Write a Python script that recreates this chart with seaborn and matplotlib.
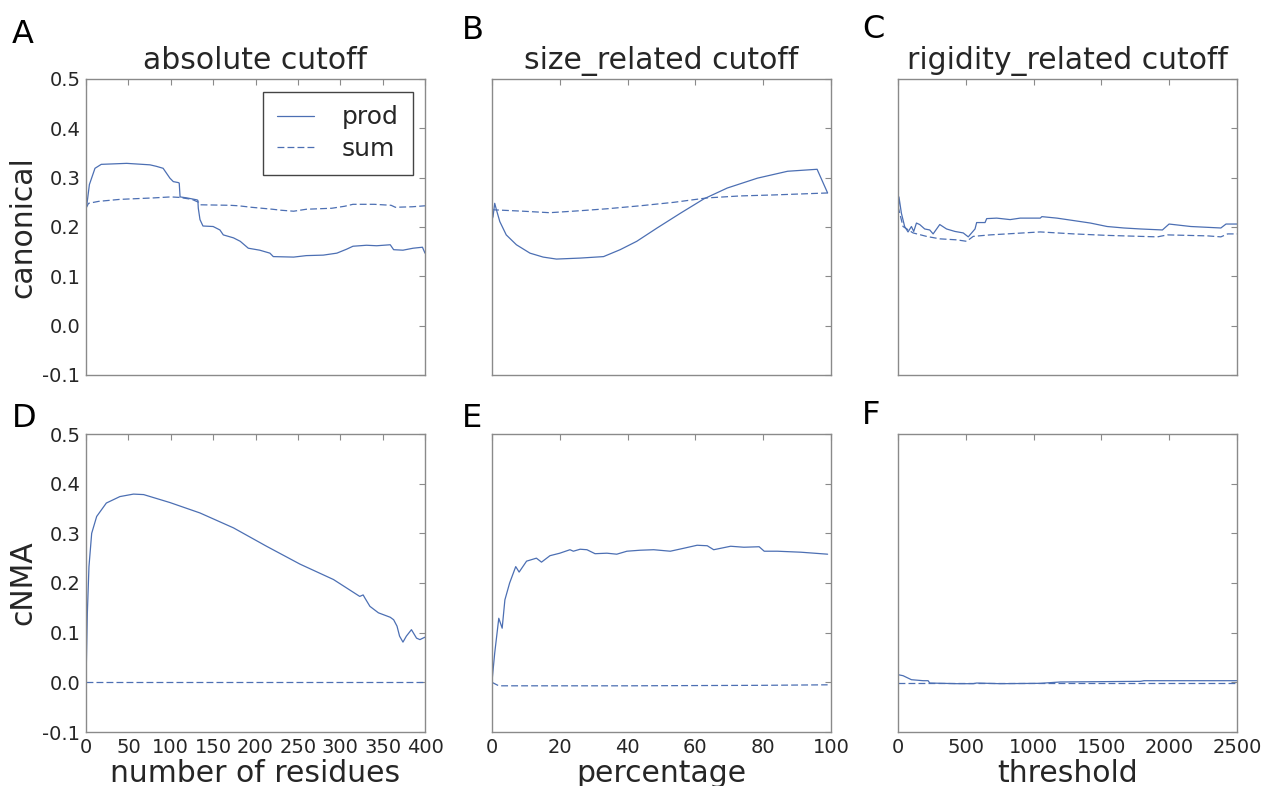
import numpy as np
import pandas as pd
import matplotlib
matplotlib.use("Agg")
import matplotlib.pyplot as plt
from matplotlib.lines import Line2D
import seaborn as sns

# ---------------- data ----------------
# Panel A: canonical / absolute cutoff
a_prod_x = [0, 1, 4, 10.6, 18, 48, 75.5, 83, 91, 95, 99, 103, 109, 110, 111, 119, 131, 132, 132.5,
            134.5, 138, 150, 158, 162, 174, 182, 191.5, 205, 217, 221, 245, 260, 280, 296, 307.5,
            315, 331, 343, 359, 363, 374, 386, 397, 400]
a_prod_y = [0.236, 0.245, 0.286, 0.319, 0.327, 0.329, 0.326, 0.323, 0.319, 0.309, 0.299, 0.292, 0.290,
            0.289, 0.261, 0.259, 0.255, 0.254, 0.238, 0.215, 0.202, 0.201, 0.194, 0.184, 0.178, 0.171,
            0.157, 0.153, 0.147, 0.140, 0.139, 0.142, 0.143, 0.147, 0.155, 0.161, 0.163, 0.162, 0.164,
            0.154, 0.153, 0.157, 0.159, 0.147]
a_sum_x = [0, 3, 15, 40, 80, 100, 110, 125, 133, 135, 170, 180, 195, 220, 230, 245, 260, 290, 305,
           315, 340, 360, 365, 385, 400]
a_sum_y = [0.238, 0.248, 0.252, 0.256, 0.259, 0.261, 0.260, 0.256, 0.250, 0.245, 0.244, 0.243, 0.240,
           0.236, 0.234, 0.232, 0.236, 0.238, 0.242, 0.246, 0.246, 0.244, 0.240, 0.241, 0.243]

# Panel B: canonical / size_related cutoff
b_prod_x = [0, 0.3, 0.8, 1.3, 2.3, 4.2, 7.2, 11.2, 15.1, 19, 26, 32.9, 37.8, 42.7, 48.7, 55.6, 62.5,
            69.4, 78.3, 87.2, 95.9, 99]
b_prod_y = [0.215, 0.221, 0.248, 0.235, 0.211, 0.184, 0.164, 0.147, 0.139, 0.135, 0.137, 0.140, 0.154,
            0.171, 0.198, 0.228, 0.257, 0.279, 0.299, 0.313, 0.317, 0.269]
b_sum_x = [0, 9.2, 17, 26, 34, 43.7, 53.6, 63.5, 73.3, 83.2, 99]
b_sum_y = [0.235, 0.232, 0.229, 0.233, 0.237, 0.243, 0.250, 0.259, 0.263, 0.265, 0.269]

# Panel C: canonical / rigidity_related cutoff
c_prod_x = [0, 7, 25, 49, 74, 99, 116, 136, 160, 197, 234, 259, 308, 358, 420, 481, 518, 568, 580,
            642, 654, 728, 827, 901, 1049, 1061, 1172, 1296, 1419, 1542, 1666, 1789, 1950, 1999,
            2159, 2381, 2419, 2500]
c_prod_y = [0.221, 0.261, 0.228, 0.201, 0.190, 0.201, 0.191, 0.208, 0.205, 0.196, 0.194, 0.186, 0.205,
            0.196, 0.191, 0.188, 0.180, 0.196, 0.209, 0.209, 0.217, 0.218, 0.215, 0.218, 0.218, 0.221,
            0.218, 0.213, 0.208, 0.201, 0.198, 0.196, 0.194, 0.206, 0.201, 0.198, 0.206, 0.206]
c_sum_x = [0, 37, 111, 210, 308, 432, 506, 555, 679, 802, 1049, 1296, 1542, 1913, 1987, 2283, 2381,
           2431, 2500]
c_sum_y = [0.242, 0.201, 0.188, 0.181, 0.176, 0.174, 0.171, 0.181, 0.184, 0.186, 0.190, 0.186, 0.183,
           0.180, 0.184, 0.182, 0.180, 0.186, 0.186]

# Panel D: cNMA / absolute cutoff
d_prod_x = [0, 1.6, 3.5, 6.7, 12.6, 24, 40, 56, 68, 99, 134.5, 174, 213, 252.5, 292, 323, 327, 329,
            335, 345, 359, 363, 367, 370, 374, 378, 384, 390, 394, 400]
d_prod_y = [0.002, 0.140, 0.233, 0.300, 0.334, 0.361, 0.374, 0.379, 0.378, 0.362, 0.341, 0.311, 0.274,
            0.238, 0.207, 0.173, 0.176, 0.170, 0.153, 0.140, 0.131, 0.126, 0.113, 0.093, 0.081, 0.093,
            0.106, 0.089, 0.086, 0.091]
d_sum_x = [0, 100, 200, 300, 400]
d_sum_y = [0.0, 0.0, 0.0, 0.0, 0.0]

# Panel E: cNMA / size_related cutoff
e_prod_x = [0, 0.8, 2, 3, 3.8, 5.2, 7, 8, 10.2, 13.1, 14.6, 17.1, 20, 23, 24, 26, 28, 30.4, 33.9, 36.8,
            39.8, 43.7, 47.7, 52.6, 56.6, 60.5, 63.5, 65.4, 70.4, 74.3, 78.8, 80.3, 84.2, 91.1, 99]
e_prod_y = [0.002, 0.059, 0.129, 0.109, 0.166, 0.200, 0.233, 0.222, 0.244, 0.250, 0.242, 0.255, 0.260,
            0.267, 0.264, 0.268, 0.267, 0.259, 0.260, 0.258, 0.264, 0.266, 0.267, 0.264, 0.270, 0.276,
            0.275, 0.267, 0.274, 0.272, 0.273, 0.264, 0.264, 0.262, 0.258]
e_sum_x = [0, 2, 40, 80, 99]
e_sum_y = [0.0, -0.007, -0.007, -0.006, -0.005]

# Panel F: cNMA / rigidity_related cutoff
f_prod_x = [0, 37, 99, 185, 222, 234, 432, 555, 580, 753, 1049, 1197, 1789, 1814, 2500]
f_prod_y = [0.0154, 0.0134, 0.0053, 0.0033, 0.0033, -0.0014, -0.0027, -0.0027, -0.0014, -0.0027,
            -0.002, 0.0007, 0.002, 0.0033, 0.0033]
f_sum_x = [0, 1000, 2000, 2500]
f_sum_y = [-0.001, -0.001, -0.001, -0.001]

col_titles = ["absolute cutoff", "size_related cutoff", "rigidity_related cutoff"]
row_labels = ["canonical", "cNMA"]
x_labels = ["number of residues", "percentage", "threshold"]
panel_letters = ["A", "B", "C", "D", "E", "F"]
x_ticks = [[0, 50, 100, 150, 200, 250, 300, 350, 400],
           [0, 20, 40, 60, 80, 100],
           [0, 500, 1000, 1500, 2000, 2500]]
y_ticks = [-0.1, 0.0, 0.1, 0.2, 0.3, 0.4, 0.5]
series_names = ["prod", "sum"]

panels = [
    [(a_prod_x, a_prod_y), (a_sum_x, a_sum_y)],
    [(b_prod_x, b_prod_y), (b_sum_x, b_sum_y)],
    [(c_prod_x, c_prod_y), (c_sum_x, c_sum_y)],
    [(d_prod_x, d_prod_y), (d_sum_x, d_sum_y)],
    [(e_prod_x, e_prod_y), (e_sum_x, e_sum_y)],
    [(f_prod_x, f_prod_y), (f_sum_x, f_sum_y)],
]

# ---------------- style ----------------
sns.set_style("white")
plt.rcParams["font.family"] = ["DejaVu Sans"]
plt.rcParams["axes.unicode_minus"] = False

W, H = 1262, 786
fig = plt.figure(figsize=(W / 100, H / 100), dpi=100)

line_color = "#4C6FB3"
text_color = "#262626"
spine_color = "#8a8a8a"
dash_style = (0, (5.5, 2.5))

lefts = [86, 492, 898]
width_px = 339
tops = [79, 434]
heights_px = [296, 298]

letter_pos = [(12, 43), (462, 39), (862, 38), (12, 427), (462, 427), (862, 424)]

for idx in range(6):
    r, c = divmod(idx, 3)
    ax = fig.add_axes([lefts[c] / W, 1 - (tops[r] + heights_px[r]) / H,
                       width_px / W, heights_px[r] / H])
    for s, (xs, ys) in enumerate(panels[idx]):
        df = pd.DataFrame({"x": xs, "y": ys})
        sns.lineplot(data=df, x="x", y="y", ax=ax, color=line_color, linewidth=0.9,
                     linestyle="-" if s == 0 else dash_style, estimator=None, legend=False)
    ax.set_xlim(x_ticks[c][0], x_ticks[c][-1])
    ax.set_ylim(-0.1, 0.5)
    ax.set_xticks(x_ticks[c])
    ax.set_yticks(y_ticks)
    ax.set_yticklabels([f"{v:.1f}" for v in y_ticks])
    ax.tick_params(direction="in", length=4, width=0.8, color=spine_color,
                   top=True, right=True, labelsize=14, labelcolor=text_color, pad=4)
    for sp in ax.spines.values():
        sp.set_color(spine_color)
        sp.set_linewidth(1.0)
    if r == 0:
        ax.tick_params(labelbottom=False)
        ax.set_title(col_titles[c], fontsize=21.5, color=text_color, pad=7)
        ax.set_xlabel("")
    else:
        ax.set_xlabel(x_labels[c], fontsize=21.5, color=text_color, labelpad=2)
    if c == 0:
        ax.set_ylabel(row_labels[r], fontsize=21.5, color=text_color, labelpad=4)
    else:
        ax.tick_params(labelleft=False)
        ax.set_ylabel("")
    if idx == 0:
        handles = [Line2D([], [], color=line_color, lw=0.9, ls="-"),
                   Line2D([], [], color=line_color, lw=0.9, ls=dash_style)]
        leg = ax.legend(handles, series_names, loc="upper right", fontsize=18,
                        frameon=True, fancybox=False, framealpha=1, edgecolor="#444444",
                        handlelength=1.5, handletextpad=1.1, borderpad=0.55,
                        borderaxespad=0.5, labelspacing=0.3)
        leg.get_frame().set_linewidth(1.0)
        for t in leg.get_texts():
            t.set_color(text_color)
    lx, ly = letter_pos[idx]
    fig.text(lx / W, 1 - ly / H, panel_letters[idx], fontsize=23, color="black",
             ha="left", va="baseline")

fig.savefig("out.png", dpi=100)
